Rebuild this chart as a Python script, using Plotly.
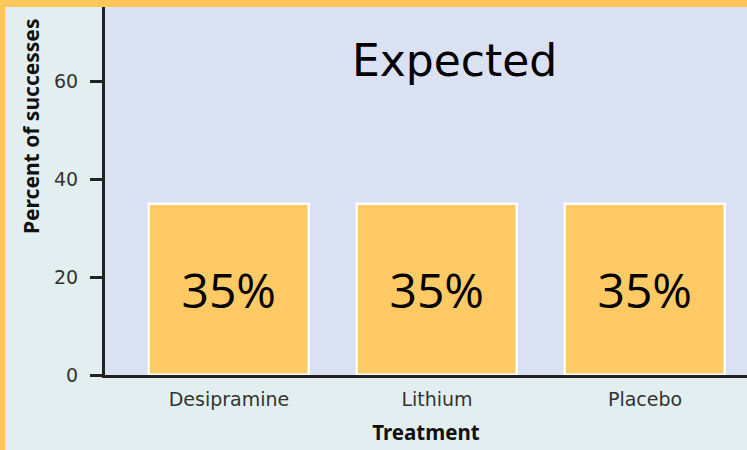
import plotly.graph_objects as go

# Expected percent of successes for each treatment group
treatments = ["Desipramine", "Lithium", "Placebo"]
expected_pct = [35, 35, 35]
y_ticks = [0, 20, 40, 60]

W, H = 747, 450
ML, MR, MT, MB = 105, 0, 7, 75
PW, PH = W - ML - MR, H - MT - MB

BG = "#e2eef0"
PLOT_BG = "#d9e1f2"
BAR = "#ffca66"
ORANGE = "#ffc65a"

fig = go.Figure(
    go.Bar(
        x=list(range(len(treatments))),
        y=expected_pct,
        width=0.77,
        marker=dict(color=BAR, line=dict(color="white", width=2.5)),
        text=[f"{v}%" for v in expected_pct],
        textposition="inside",
        insidetextanchor="middle",
        textfont=dict(family="Open Sans", size=48, color="#000"),
        textangle=0,
        hoverinfo="skip",
    )
)

fig.update_layout(
    width=W,
    height=H,
    margin=dict(l=ML, r=MR, t=MT, b=MB),
    paper_bgcolor=BG,
    plot_bgcolor=PLOT_BG,
    showlegend=False,
    bargap=0,
    xaxis=dict(
        range=[-0.596, 2.49],
        tickmode="array",
        tickvals=list(range(len(treatments))),
        ticktext=treatments,
        showgrid=False,
        zeroline=False,
        showline=True,
        linecolor="#222",
        linewidth=3,
        ticks="",
        ticklabelstandoff=5,
        tickfont=dict(family="DejaVu Sans", size=19, color="#333"),
        title=dict(text="<b>Treatment</b>", font=dict(family="Noto Sans", size=20.5, color="#111"), standoff=17),
    ),
    yaxis=dict(
        range=[0, PH / 4.9],
        tickmode="array",
        tickvals=y_ticks,
        showgrid=False,
        zeroline=False,
        showline=True,
        linecolor="#222",
        linewidth=3,
        ticks="outside",
        ticklen=12,
        tickwidth=3,
        tickcolor="#222",
        ticklabelstandoff=8,
        tickfont=dict(family="DejaVu Sans", size=19, color="#333"),
    ),
    shapes=[
        # orange frame strips along top and left edges
        dict(type="rect", xref="paper", yref="paper", layer="above",
             x0=-ML / PW, x1=1.0, y0=1.0, y1=1.0 + MT / PH,
             fillcolor=ORANGE, line=dict(width=0)),
        dict(type="rect", xref="paper", yref="paper", layer="above",
             x0=-ML / PW, x1=-(ML - 5) / PW, y0=-MB / PH, y1=1.0 + MT / PH,
             fillcolor=ORANGE, line=dict(width=0)),
    ],
    annotations=[
        dict(text="Expected", xref="paper", yref="paper",
             x=(455 - ML) / PW, y=1 - (61 - MT) / PH,
             xanchor="center", yanchor="middle", showarrow=False,
             font=dict(family="DejaVu Sans", size=44, color="#000")),
        dict(text="<b>Percent of successes</b>", xref="paper", yref="paper",
             x=(31 - ML) / PW, y=1 - (127 - MT) / PH, textangle=-90,
             xanchor="center", yanchor="middle", showarrow=False,
             font=dict(family="Noto Sans", size=21, color="#111")),
    ],
)

fig.write_html("out.html")
